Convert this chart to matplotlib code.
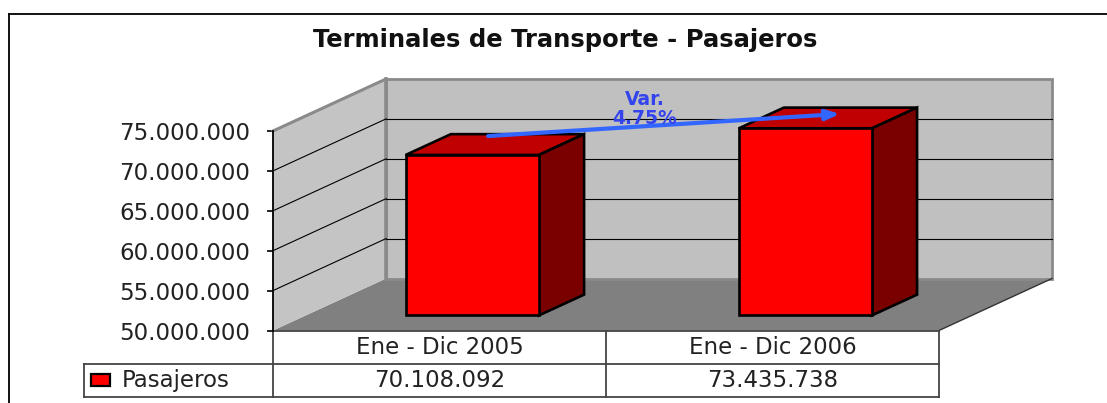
import matplotlib
matplotlib.use("Agg")
import matplotlib.pyplot as plt
from matplotlib.patches import Polygon, Rectangle
from matplotlib.lines import Line2D
from matplotlib.ticker import FuncFormatter

# ---------------- data ----------------
categories = ["Ene - Dic 2005", "Ene - Dic 2006"]
series_name = "Pasajeros"
values = [70108092, 73435738]
y_ticks = [50000000, 55000000, 60000000, 65000000, 70000000, 75000000]
title = "Terminales de Transporte - Pasajeros"

def fmt(v):
    return f"{int(round(v)):,}".replace(",", ".")

variation = (values[1] / values[0] - 1) * 100

# ---------------- layout (pixels) ----------------
W, H = 1107, 403
X0 = 273.0                      # front-left corner of plot (px)
UX = (939.0 - 273.0) / len(categories)   # px per category
Y_BASE = 330.5                  # px of y_ticks[0]
UY = (330.5 - 131.0) / (y_ticks[-1] - y_ticks[0])  # px per unit value
DX = 113.0 / UX                 # depth offset (data units)
DY = 52.0 / UY
F0, F1 = 0.29, 0.69             # bar front/back depth fractions
HALF = 0.2                      # half bar width (gap width 150%)
ROW = 33.0 / UY                 # table row height in value units

ymin = y_ticks[0]
ymax = y_ticks[-1]
ncat = len(categories)

fig = plt.figure(figsize=(W / 100, H / 100), dpi=100)
fig.patch.set_facecolor("white")
ax = fig.add_axes([0, 0, 1, 1])
ax.set_xlim(-X0 / UX, (W - X0) / UX)
ax.set_ylim(ymin - (H - Y_BASE) / UY, ymin + Y_BASE / UY)
ax.patch.set_visible(False)
for s in ["top", "right", "bottom"]:
    ax.spines[s].set_visible(False)
ax.spines["left"].set_position(("data", 0))
ax.spines["left"].set_bounds(ymin, ymax)
ax.spines["left"].set_linewidth(1.3)
ax.spines["left"].set_zorder(6)
ax.set_xticks([])
ax.set_yticks(y_ticks)
ax.yaxis.set_major_formatter(FuncFormatter(lambda v, p: fmt(v)))
ax.tick_params(axis="y", direction="out", length=4.5, width=1.2, pad=12,
               labelsize=16.5, labelcolor="#222222")

FONT = "DejaVu Sans"

# ---------------- walls & floor ----------------
floor = Polygon([(0, ymin), (ncat, ymin), (ncat + DX, ymin + DY), (DX, ymin + DY)],
                closed=True, facecolor="#808080", edgecolor="none", zorder=1)
ax.add_patch(floor)
ax.add_line(Line2D([ncat, ncat + DX], [ymin, ymin + DY], color="#333333", lw=1.0, zorder=2))

back = Rectangle((DX, ymin + DY), ncat, ymax - ymin, facecolor="#C0C0C0",
                 edgecolor="#8A8A8A", lw=2.0, zorder=1)
ax.add_patch(back)
side = Polygon([(0, ymin), (0, ymax), (DX, ymax + DY), (DX, ymin + DY)], closed=True,
               facecolor="#C4C4C4", edgecolor="none", zorder=1)
ax.add_patch(side)
ax.add_line(Line2D([0, DX], [ymax, ymax + DY], color="#8A8A8A", lw=2.2, zorder=2))
ax.add_line(Line2D([DX, DX], [ymin + DY, ymax + DY], color="#8A8A8A", lw=2.6, zorder=2))

for v in y_ticks[1:-1]:
    ax.add_line(Line2D([0, DX], [v, v + DY], color="black", lw=0.8, zorder=2))
    ax.add_line(Line2D([DX, ncat + DX], [v + DY, v + DY], color="black", lw=0.8, zorder=2))

# ---------------- 3D bars ----------------
for i, v in enumerate(values):
    c = i + 0.5
    xl0, xr0 = c - HALF + F0 * DX, c + HALF + F0 * DX
    xl1, xr1 = c - HALF + F1 * DX, c + HALF + F1 * DX
    b0, b1 = ymin + F0 * DY, ymin + F1 * DY
    t0, t1 = v + F0 * DY, v + F1 * DY
    front = Polygon([(xl0, b0), (xr0, b0), (xr0, t0), (xl0, t0)], closed=True,
                    facecolor="#FF0000", edgecolor="black", lw=1.9, joinstyle="miter", zorder=4)
    top = Polygon([(xl0, t0), (xr0, t0), (xr1, t1), (xl1, t1)], closed=True,
                  facecolor="#C00000", edgecolor="black", lw=1.9, joinstyle="miter", zorder=3)
    rside = Polygon([(xr0, b0), (xr1, b1), (xr1, t1), (xr0, t0)], closed=True,
                    facecolor="#7A0000", edgecolor="black", lw=1.9, joinstyle="miter", zorder=3)
    ax.add_patch(top)
    ax.add_patch(rside)
    ax.add_patch(front)

# ---------------- variation arrow ----------------
ax.annotate("", xy=(1.703, values[1] + 3.7e6), xytext=(0.646, values[0] + 4.26e6),
            arrowprops=dict(arrowstyle="-|>,head_length=0.8,head_width=0.3",
                            color="#3366FF", lw=3.0, shrinkA=0, shrinkB=0), zorder=7)
ax.text(1.117, ymin + 27.77e6, f"Var.\n{variation:.2f}%", ha="center", va="center",
        fontsize=13.5, fontweight="bold", color="#3344EE", family=FONT,
        linespacing=1.0, zorder=8)

# ---------------- data table ----------------
tcol = "#444444"
lx = -0.568
# horizontal lines
ax.add_line(Line2D([0, ncat], [ymin, ymin], color=tcol, lw=1.3, zorder=5))
ax.add_line(Line2D([lx, ncat], [ymin - ROW, ymin - ROW], color=tcol, lw=1.3, zorder=5))
ax.add_line(Line2D([lx, ncat], [ymin - 2 * ROW, ymin - 2 * ROW], color=tcol, lw=1.3, zorder=5))
# vertical lines
for xv in range(0, ncat + 1):
    ax.add_line(Line2D([xv, xv], [ymin, ymin - 2 * ROW], color=tcol, lw=1.3, zorder=5))
ax.add_line(Line2D([lx, lx], [ymin - ROW, ymin - 2 * ROW], color=tcol, lw=1.3, zorder=5))

for i, (cat, v) in enumerate(zip(categories, values)):
    ax.text(i + 0.5, ymin - 0.5 * ROW, cat, ha="center", va="center",
            fontsize=16.5, color="#222222", family=FONT)
    ax.text(i + 0.5, ymin - 1.5 * ROW, fmt(v), ha="center", va="center",
            fontsize=16.5, color="#222222", family=FONT)

# legend key
ax.add_patch(Rectangle((lx + 7 / UX, ymin - 1.5 * ROW - 6 / UY), 19 / UX, 12 / UY,
                       facecolor="#FF0000", edgecolor="black", lw=1.6, zorder=6))
ax.text(lx + 38 / UX, ymin - 1.5 * ROW, series_name, ha="left", va="center",
        fontsize=16.5, color="#222222", family=FONT)

# ---------------- title & frame ----------------
fig.text(565 / W, 1 - 40 / H, title, ha="center", va="center", fontsize=17.5,
         fontweight="bold", color="#111111", family=FONT)
fig.add_artist(Line2D([9 / W, 9 / W], [0, 1 - 14 / H], color="black", lw=1.3,
                      transform=fig.transFigure))
fig.add_artist(Line2D([9 / W, 1], [1 - 14 / H, 1 - 14 / H], color="black", lw=1.3,
                      transform=fig.transFigure))

fig.savefig("out.png", dpi=100, facecolor="white")
